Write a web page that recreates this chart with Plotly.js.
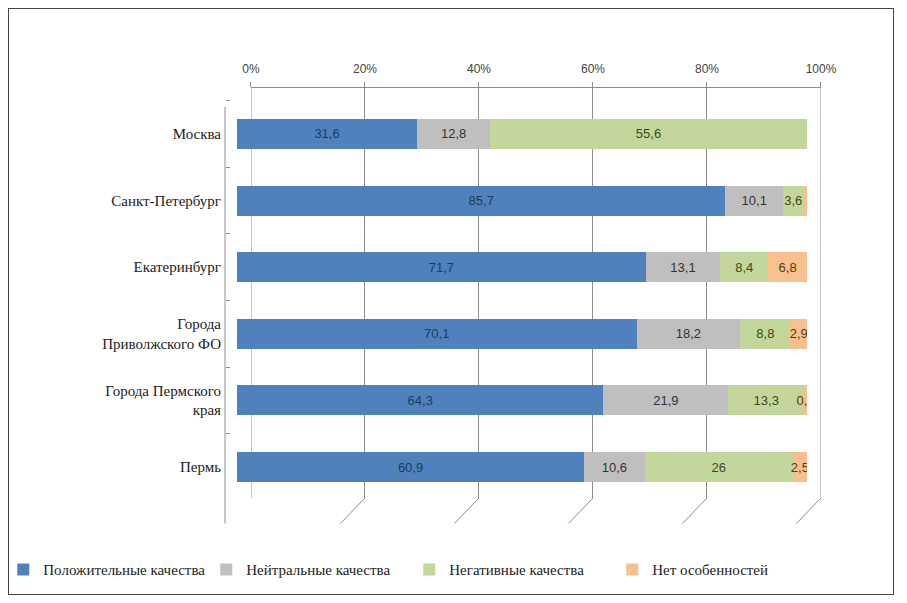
<!DOCTYPE html>
<html><head><meta charset="utf-8">
<script src="https://cdn.plot.ly/plotly-3.0.1.min.js"></script>
<style>
html,body{margin:0;padding:0;background:#fff;}
#frame{position:absolute;left:8px;top:8px;width:886px;height:587px;border:1px solid #444;box-sizing:border-box;pointer-events:none;z-index:5;}
#chart{position:absolute;left:0;top:0;width:907px;height:603px;}
</style></head>
<body>
<div id="chart"></div><div id="frame"></div>
<script>
const categories = ['Москва','Санкт-Петербург','Екатеринбург','Города<br>Приволжского ФО','Города Пермского<br>края','Пермь'];
const seriesNames = ['Положительные качества','Нейтральные качества','Негативные качества','Нет особенностей'];
const positive = [31.6, 85.7, 71.7, 70.1, 64.3, 60.9];
const neutral  = [12.8, 10.1, 13.1, 18.2, 21.9, 10.6];
const negative = [55.6, 3.6, 8.4, 8.8, 13.3, 26];
const noFeatures = [0, 0.6, 6.8, 2.9, 0.5, 2.5];
const noFeaturesLabels = ['', '', '6,8', '2,9', '0,5', '2,5'];
const tickVals = [0,20,40,60,80,100];
const tickText = ['0%','20%','40%','60%','80%','100%'];

const SERIF = 'Liberation Serif';
const SANS = 'Liberation Sans';
const colors = ['#4F81BD','#BFBFBF','#C3D69B','#F9C08F'];
const textColors = ['#1F3A60','#333333','#3A4A20','#5A3A10'];
const allSeries = [positive, neutral, negative, noFeatures];
const fmt = v => v ? String(v).replace('.', ',') : '';

// helper (empty) trace on the back-wall grid axis, first so its subplot is drawn underneath
const traces = [{type: 'scatter', x: [], y: [], xaxis: 'x', yaxis: 'y', showlegend: false, hoverinfo: 'skip'}];
allSeries.forEach((vals, i) => traces.push({
  type: 'bar',
  orientation: 'h',
  name: seriesNames[i],
  x: vals,
  y: categories,
  xaxis: 'x2', yaxis: 'y',
  marker: {color: colors[i], line: {width: 0}},
  text: i === 3 ? noFeaturesLabels : vals.map(fmt),
  textposition: 'inside',
  insidetextanchor: 'middle',
  textangle: 0,
  insidetextfont: {family: SANS, size: 13, color: textColors[i]},
  hoverinfo: 'x+name'
}));

// 3D floor / wall decorations derived from the grid ticks
const GRID = '#8c8c8c';
const depthX = 4.3;      // in grid-axis units
const depthY = 0.062;    // in paper units
const shapes = tickVals.map(v => ({
  type: 'line', xref: 'x', yref: 'paper', x0: v, y0: 0, x1: v - depthX, y1: -depthY,
  line: {color: GRID, width: 1}, layer: 'below'
}));
// end gridlines of the back wall (Plotly drops gridlines at the range ends)
[tickVals[0], tickVals[tickVals.length - 1]].forEach(v => shapes.push({
  type: 'line', xref: 'x', yref: 'paper', x0: v, y0: 0, x1: v, y1: 1,
  line: {color: GRID, width: 1}, layer: 'below'
}));
shapes.push({type: 'line', xref: 'x', yref: 'paper', x0: 0, y0: 1, x1: -4.4, y1: 1 - 0.046, line: {color: GRID, width: 1}, layer: 'below'});
shapes.push({type: 'line', xref: 'paper', yref: 'paper', x0: 0, y0: 1 - 0.046, x1: 0, y1: -depthY, line: {color: GRID, width: 1}, layer: 'below'});

const layout = {
  width: 907, height: 603,
  margin: {l: 225, r: 86, t: 88, b: 105, autoexpand: false},
  barmode: 'stack',
  bargap: 0.55,
  paper_bgcolor: '#fff', plot_bgcolor: 'rgba(0,0,0,0)',
  font: {family: SERIF, size: 15, color: '#222'},
  uniformtext: {mode: 'show', minsize: 12},
  xaxis: {
    domain: [0.0436, 1], range: [0, 100], anchor: 'y', side: 'top',
    tickvals: tickVals, ticktext: tickText,
    showgrid: true, gridcolor: GRID, gridwidth: 1, zeroline: false,
    showline: true, linecolor: GRID, linewidth: 1,
    ticks: 'outside', ticklen: 5, tickcolor: GRID, ticklabelstandoff: 4,
    tickfont: {family: SANS, size: 12, color: '#444'},
    fixedrange: true
  },
  xaxis2: {
    domain: [0.0201, 0.9765], range: [0, 100], anchor: 'y',
    showgrid: false, zeroline: false, showline: false, showticklabels: false, ticks: '',
    fixedrange: true
  },
  yaxis: {
    range: [5.465, -0.69], anchor: 'free', position: 0,
    showline: false, showgrid: false, zeroline: false,
    ticks: 'inside', ticklen: 4, tickcolor: GRID, tickson: 'boundaries',
    ticklabelstandoff: 4,
    tickfont: {family: SERIF, size: 15, color: '#222'},
    fixedrange: true
  },
  shapes: shapes,
  legend: {
    orientation: 'h', x: -0.372, xanchor: 'left', y: -0.135, yanchor: 'top',
    font: {family: SERIF, size: 15, color: '#222'},
    traceorder: 'normal', itemwidth: 30, entrywidth: 158
  },
  showlegend: true
};

Plotly.newPlot('chart', traces, layout, {displayModeBar: false, staticPlot: true});
</script>
</body></html>
